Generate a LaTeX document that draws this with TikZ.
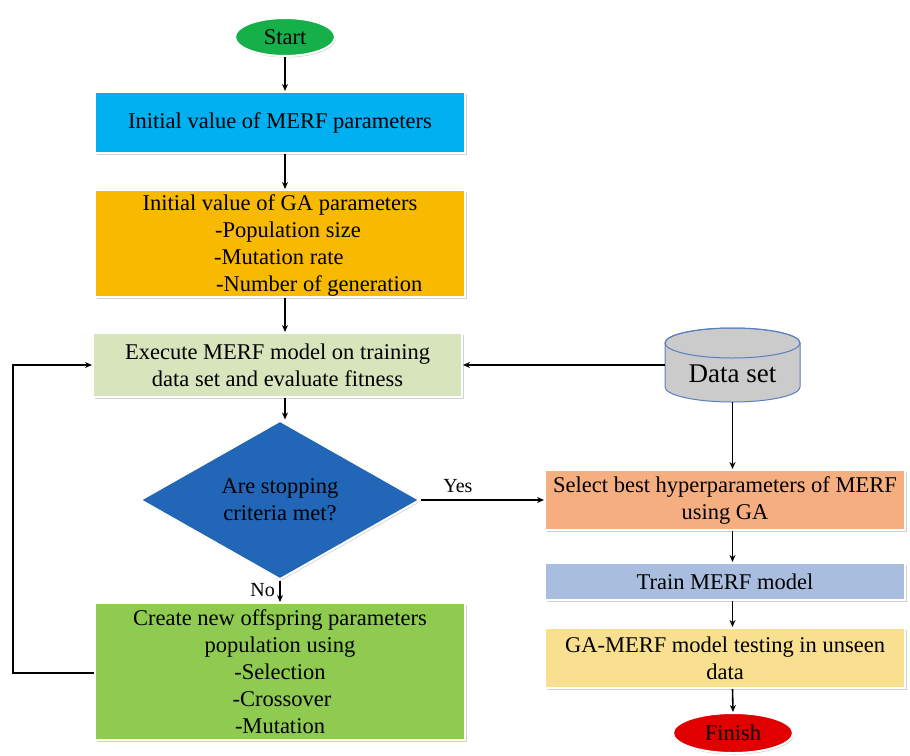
\documentclass[tikz,border=0pt]{standalone}
\usepackage{fontspec}
\setmainfont{Liberation Serif}
\usetikzlibrary{shapes.geometric,arrows.meta,shadows}
\definecolor{cblue}{HTML}{00B0F0}
\definecolor{cgold}{HTML}{F7BA00}
\definecolor{clgreen}{HTML}{D8E4BC}
\definecolor{cdiam}{HTML}{2266B8}
\definecolor{cgreen}{HTML}{8FCB50}
\definecolor{csalmon}{HTML}{F4AE80}
\definecolor{csteel}{HTML}{A9BEDF}
\definecolor{cyell}{HTML}{F9DF90}
\definecolor{cstart}{HTML}{16B04A}
\definecolor{cfin}{HTML}{E00000}
\definecolor{cgray}{HTML}{CBCBCB}
\definecolor{cedge}{HTML}{5A7EC0}
\tikzset{
  box/.style={rectangle, draw=white, line width=2pt, inner sep=0pt, align=center,
    font=\fontsize{22.5}{27}\selectfont, text=black,
    drop shadow={shadow xshift=1.5pt, shadow yshift=-2pt, fill=black!30, opacity=0.6}},
  term/.style={ellipse, draw=white, line width=2pt, inner sep=0pt,
    font=\fontsize{22.5}{24}\selectfont, text=black,
    drop shadow={shadow xshift=1pt, shadow yshift=-1.5pt, fill=black!30, opacity=0.6}},
  txt/.style={font=\fontsize{22.5}{27}\selectfont, text=black, inner sep=0pt},
  arr/.style={-{Stealth[length=7pt,width=6pt]}, line width=1.6pt, black},
  lbl/.style={font=\fontsize{20}{22}\selectfont, text=black}
}
\begin{document}
\begin{tikzpicture}[x=1pt,y=-1pt]
\useasboundingbox (0,0) rectangle (910,755);
% terminals
\node[term, fill=cstart, minimum width=100pt, minimum height=38pt] (start) at (285,37) {Start};
\node[term, fill=cfin, minimum width=120pt, minimum height=40pt] (finish) at (733,733) {Finish};
% left column
\node[box, fill=cblue, minimum width=370pt, minimum height=61pt] (merf) at (280,122.5) {Initial value of MERF parameters};
\node[box, fill=cgold, minimum width=370pt, minimum height=107pt] (ga) at (280,243.5) {};
\node[txt, anchor=base] (ga1) at (280,210) {Initial value of GA parameters};
\node[txt, anchor=base west] (ga2) at (215,237) {-Population size};
\node[txt, anchor=base west] (ga3) at (214,264) {-Mutation rate};
\node[txt, anchor=base west] (ga4) at (216,291) {-Number of generation};
\node[box, fill=clgreen, minimum width=369pt, minimum height=64pt] (exec) at (277.5,365) {Execute MERF model on training\\data set and evaluate fitness};
\node[diamond, fill=cdiam, draw=white, line width=2pt, minimum width=280pt, minimum height=142pt, inner sep=0pt,
  font=\fontsize{22.5}{27}\selectfont, text=black, align=center,
  drop shadow={shadow xshift=1pt, shadow yshift=-1.5pt, fill=black!30, opacity=0.6}] (stop) at (280,500) {Are stopping\\criteria met?};
\node[box, fill=cgreen, minimum width=370pt, minimum height=137pt] (off) at (280,671.5) {Create new offspring parameters\\population using\\-Selection\\\hspace*{4pt}-Crossover\\-Mutation};
% right column
\node[box, fill=csalmon, minimum width=360pt, minimum height=60pt] (sel) at (725,500) {Select best hyperparameters of MERF\\using GA};
\node[box, fill=csteel, minimum width=360pt, minimum height=37pt] (train) at (725,581.5) {Train MERF model};
\node[box, fill=cyell, minimum width=360pt, minimum height=60pt] (test) at (725,658) {GA-MERF model testing in unseen\\data};
% data set cylinder
\fill[cgray, draw=cedge, line width=1pt] (665,343) -- (665,387) arc[start angle=180, end angle=0, x radius=67.5, y radius=15] -- (800,343) arc[start angle=0, end angle=-180, x radius=67.5, y radius=15] -- cycle;
\draw[cedge, line width=1pt] (732.5,343) ellipse [x radius=67.5, y radius=15];
\node[inner sep=0pt, minimum width=135pt, minimum height=74pt] (data) at (732.5,365) {};
\node[font=\fontsize{27}{30}\selectfont, text=black, inner sep=0pt] (datatxt) at (732.5,374) {Data set};
% connectors
\draw[arr] (start.south) -- (start.south|-merf.north);
\draw[arr] (start.south|-merf.south) -- (start.south|-ga.north);
\draw[arr] (start.south|-ga.south) -- (start.south|-exec.north);
\draw[arr] (start.south|-exec.south) -- (start.south|-stop.north);
\draw[arr] (stop.south) -- (off.north) node[lbl, pos=0.45, left, xshift=-1pt] {No};
\draw[arr] (stop.east) -- (sel.west) node[lbl, pos=0.3, above, yshift=3pt] {Yes};
\draw[arr] (data.west) -- (exec.east);
\draw[arr] (data.south) -- (data.south|-sel.north);
\draw[arr] (sel.south-|data.south) -- (data.south|-train.north);
\draw[arr] (train.south-|data.south) -- (data.south|-test.north);
\draw[arr] (test.south-|data.south) -- (finish.north);
\coordinate (loopA) at (13,673);
\coordinate (loopB) at (13,365);
\draw[arr, line width=1.8pt] (off.west|-loopA) -- (loopA) -- (loopB) -- (exec.west);
\end{tikzpicture}
\end{document}
